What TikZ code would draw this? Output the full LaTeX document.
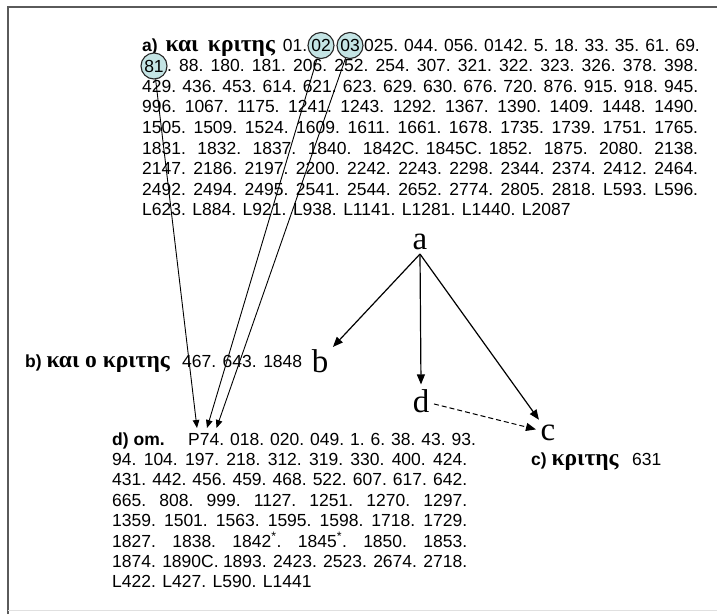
\documentclass[tikz,border=0pt]{standalone}
\usepackage{fontspec}
\setmainfont{Liberation Sans}
\newfontfamily\greekfont{Liberation Serif}
\newfontfamily\sigfont{Liberation Serif}
\usetikzlibrary{arrows.meta}
\definecolor{circfill}{RGB}{196,228,228}
\definecolor{framegray}{RGB}{90,90,90}
\newcommand\numsize{\fontsize{17.5}{20}\selectfont}
\newcommand\gr[1]{{\greekfont\bfseries\fontsize{23.5}{23.5}\selectfont #1}}
\newcommand\fillrow[2]{\makebox[#1][s]{#2}}
\begin{document}
\begin{tikzpicture}[x=1pt,y=-1pt,
  txt/.style={anchor=base west, inner sep=0pt, font=\numsize},
  ring/.style={circle, draw=black!85, fill=circfill, line width=1.1pt,
               minimum size=26pt, inner sep=0pt, font=\numsize},
  letter/.style={anchor=base, inner sep=4.5pt, font=\sigfont\fontsize{33}{33}\selectfont},
  mainarrow/.style={line width=1.2pt, -{Triangle[length=10pt,width=8pt]}},
  thinarrow/.style={line width=0.9pt, -{Triangle[length=8pt,width=6.5pt]}},
]
\useasboundingbox (0,0) rectangle (717,614);
\fill[white] (0,0) rectangle (717,614);
\draw[framegray, line width=1.6pt] (8,614) -- (8,7) -- (717,7);
\draw[black!12, line width=1pt] (8,610.5) -- (717,610.5);

% ---- a) witnesses
\node[txt] (a1) at (142,51) {\fillrow{165pt}{\textbf{a)} \gr{και κριτης} 01.}};
\node[ring] (c02) at (321,45.5) {02};
\node[ring] (c03) at (350,45.5) {03};
\node[txt] (a1r) at (364,51) {\fillrow{335pt}{025. 044. 056. 0142. 5. 18. 33. 35. 61. 69.}};
\node[ring] (c81) at (154,66) {81};
\node[txt] (a2) at (167,71.6) {\fillrow{531pt}{. 88. 180. 181. 206. 252. 254. 307. 321. 322. 323. 326. 378. 398.}};
\foreach \row [count=\i from 3] in {
  {429. 436. 453. 614. 621. 623. 629. 630. 676. 720. 876. 915. 918. 945.},
  {996. 1067. 1175. 1241. 1243. 1292. 1367. 1390. 1409. 1448. 1490.},
  {1505. 1509. 1524. 1609. 1611. 1661. 1678. 1735. 1739. 1751. 1765.},
  {1831. 1832. 1837. 1840. 1842C. 1845C. 1852. 1875. 2080. 2138.},
  {2147. 2186. 2197. 2200. 2242. 2243. 2298. 2344. 2374. 2412. 2464.},
  {2492. 2494. 2495. 2541. 2544. 2652. 2774. 2805. 2818. L593. L596.}}
  \node[txt] (a\i) at (142,{51+20.6*(\i-1)}) {\fillrow{556pt}{\row}};
\node[txt] (a9) at (142,215.8) {L623. L884. L921. L938. L1141. L1281. L1440. L2087};

% ---- b) and c)
\node[txt] (bl) at (25,367.5) {\textbf{b)} \gr{και ο κριτης}};
\node[txt] (bn) at (182,367.5) {467. 643. 1848};
\node[txt] (cl) at (531,465.5) {\textbf{c)} \gr{κριτης}};
\node[txt] (cn) at (632,465.5) {631};

% ---- d) omission
\node[txt] (d1) at (112,445) {\textbf{d) om.}};
\node[txt] (d1r) at (188,445) {\fillrow{285pt}{P74. 018. 020. 049. 1. 6. 38. 43. 93.}};
\foreach \row [count=\i from 2] in {
  {94. 104. 197. 218. 312. 319. 330. 400. 424.},
  {431. 442. 456. 459. 468. 522. 607. 617. 642.},
  {665. 808. 999. 1127. 1251. 1270. 1297.},
  {1359. 1501. 1563. 1595. 1598. 1718. 1729.},
  {1827. 1838. 1842\textsuperscript{*}. 1845\textsuperscript{*}. 1850. 1853.},
  {1874. 1890C. 1893. 2423. 2523. 2674. 2718.}}
  \node[txt] (d\i) at (112,{445+20.4*(\i-1)}) {\fillrow{355pt}{\row}};
\node[txt] (d8) at (112,587.8) {L422. L427. L590. L1441};

% ---- stemma
\node[letter] (la) at (420,249) {a};
\node[letter] (lb) at (320,372) {b};
\node[letter] (ld) at (421,412) {d};
\node[letter] (lc) at (548,440) {c};
\draw[mainarrow] (la.south) -- (lb);
\draw[mainarrow] (la.south) -- (ld.north);
\draw[mainarrow] (la.south) -- (lc);
\draw[mainarrow, line width=1pt, dash pattern=on 5pt off 3pt] (ld) -- (lc);

% ---- links from the circled witnesses to d)
\coordinate (t1) at (197,428);
\coordinate (t2) at (207,428);
\coordinate (t3) at (216.5,428);
\draw[thinarrow] (c81) -- (t1);
\draw[thinarrow] (c02) -- (t2);
\draw[thinarrow] (c03) -- (t3);
\end{tikzpicture}
\end{document}
